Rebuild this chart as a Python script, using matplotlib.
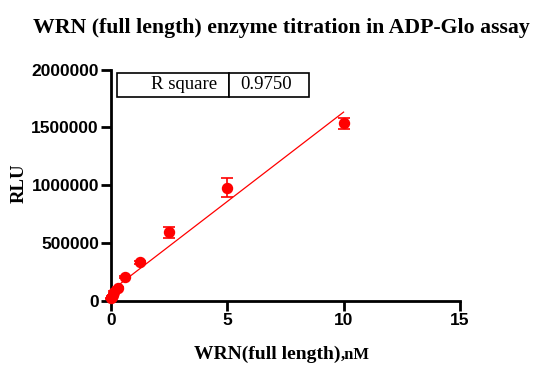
import matplotlib

matplotlib.use("Agg")
import matplotlib.pyplot as plt
import numpy as np

# WRN (full length) titration, ADP-Glo readout (2-fold series)
conc_nm = [0.0195, 0.039, 0.078, 0.156, 0.3125, 0.625, 1.25, 2.5, 5.0, 10.0]
rlu_mean = [22000, 35000, 50000, 78000, 115000, 205000, 334000, 593000, 979000, 1535000]
rlu_sd = [4000, 4000, 5000, 6000, 8000, 10000, 15000, 50000, 81000, 47000]
r_square_text = "0.9750"
x_ticks = [0, 5, 10, 15]
y_ticks = [0, 500000, 1000000, 1500000, 2000000]

RED = "#ff0000"
SERIF = "Liberation Serif"
SANS = "Liberation Sans"
W, H = 557, 385


def main() -> None:
    fig = plt.figure(figsize=(W / 100, H / 100), dpi=100)
    ax = fig.add_axes([110.7 / W, (H - 301) / H, (460 - 110.7) / W, (301 - 69.5) / H])

    x = np.asarray(conc_nm)
    y = np.asarray(rlu_mean)
    slope, intercept = np.polyfit(x, y, 1)
    x_fit = np.array([x.min(), x.max()])
    ax.plot(x_fit, slope * x_fit + intercept, "-", color=RED, lw=0.9, zorder=2)

    ax.errorbar(
        x, y, yerr=rlu_sd, fmt="o", color=RED, ms=7.2, capsize=4,
        elinewidth=1.2, capthick=1.2, zorder=3, clip_on=False,
    )

    ax.set_xlim(0, 15)
    ax.set_ylim(0, 2000000)
    ax.set_xticks(x_ticks)
    ax.set_yticks(y_ticks)
    ax.set_xticklabels([str(t) for t in x_ticks], fontfamily=SANS, fontweight="bold", fontsize=12.5)
    ax.set_yticklabels([str(t) for t in y_ticks], fontfamily=SANS, fontweight="bold", fontsize=12.5)
    for side in ("top", "right"):
        ax.spines[side].set_visible(False)
    for side in ("left", "bottom"):
        ax.spines[side].set_linewidth(2.0)
    ax.tick_params(width=2.0, length=7, pad=1.5)

    # x label: main part plus a slightly smaller ",nM"
    fig.text(340 / W, (H - 359) / H, "WRN(full length)", ha="right", va="baseline",
             fontfamily=SERIF, fontweight="bold", fontsize=14)
    fig.text(341 / W, (H - 359) / H, ",nM", ha="left", va="baseline",
             fontfamily=SERIF, fontweight="bold", fontsize=12)

    ax.set_ylabel("RLU", fontfamily=SERIF, fontweight="bold", fontsize=13.5)
    ax.yaxis.set_label_coords((28 - 110.7) / (460 - 110.7), (301 - 183) / (301 - 69.5))

    fig.text(281 / W, (H - 33) / H, "WRN (full length) enzyme titration in ADP-Glo assay",
             ha="center", va="baseline", fontfamily=SERIF, fontweight="bold", fontsize=15.7)

    ax_w = 460 - 110.7
    ax_h = 301 - 69.5
    tbl = ax.table(
        cellText=[["R square", r_square_text]],
        colWidths=[(228.7 - 117.3) / ax_w, (309.3 - 228.7) / ax_w],
        bbox=[(117.3 - 110.7) / ax_w, (301 - 96.7) / ax_h,
              (309.3 - 117.3) / ax_w, (96.7 - 72.7) / ax_h],
    )
    tbl.auto_set_font_size(False)
    for (row, col), cell in tbl.get_celld().items():
        cell.set_linewidth(1.2)
        cell.set_edgecolor("black")
        txt = cell.get_text()
        txt.set_fontfamily(SERIF)
        txt.set_fontsize(13.5)
        if col == 0:
            cell.set_text_props(ha="right")
            cell.PAD = 0.105
        else:
            cell.set_text_props(ha="left")
            cell.PAD = 0.14

    fig.savefig("out.png", dpi=100)
    plt.close(fig)


if __name__ == "__main__":
    main()
